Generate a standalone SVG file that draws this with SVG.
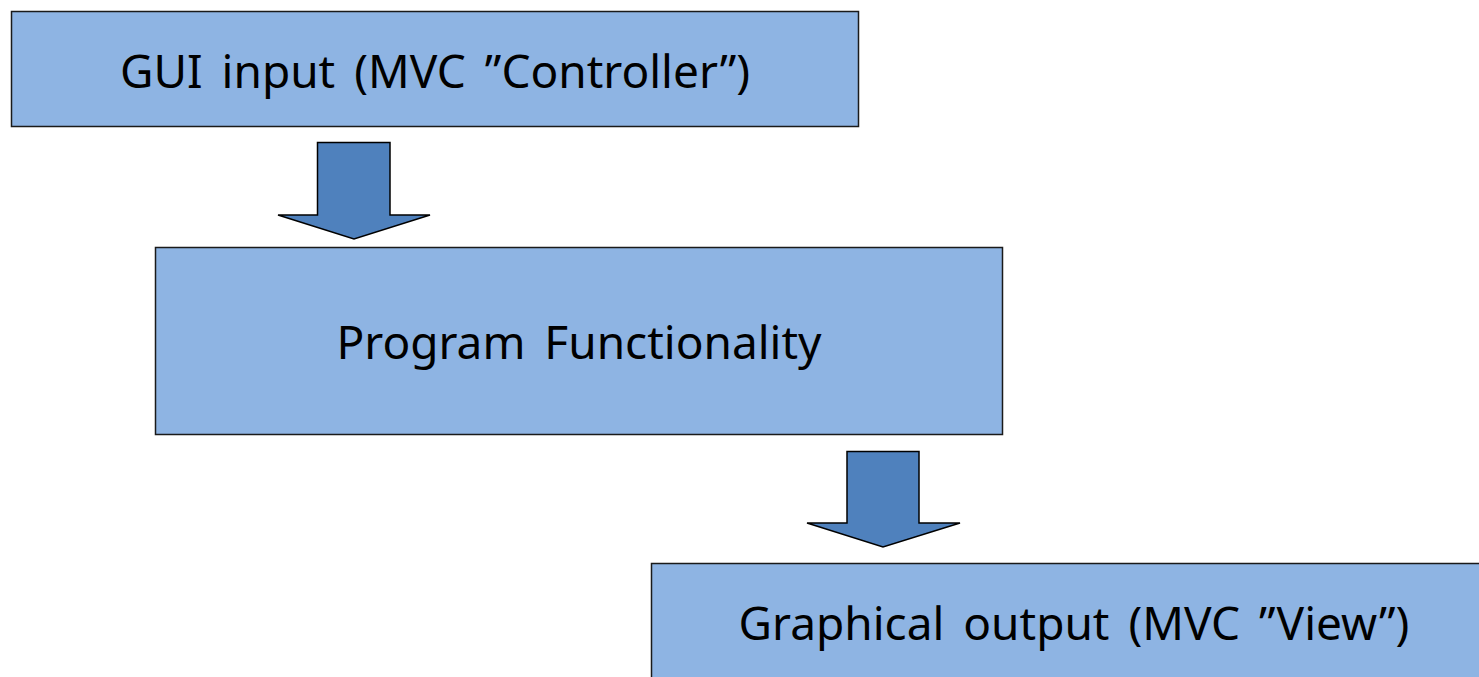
<svg xmlns="http://www.w3.org/2000/svg" width="1479" height="677" viewBox="0 0 1479 677">
<style>
.box{fill:#8EB4E3;stroke:#1a1a1a;stroke-width:1.5}
.arr{fill:#4F81BD;stroke:#000;stroke-width:1.5;stroke-linejoin:miter}
.t{font-family:"Noto Sans","Open Sans",sans-serif;font-size:46px;fill:#000;text-anchor:middle;word-spacing:7px}
</style>
<rect width="1479" height="677" fill="#fff"/>
<g id="gui-input">
<rect class="box" x="11.5" y="11.5" width="847" height="115"/>
<text class="t" x="435" y="88">GUI input (MVC ”Controller”)</text>
</g>
<g id="program-functionality">
<rect class="box" x="155.5" y="247.5" width="847" height="187"/>
<text class="t" x="579" y="359">Program Functionality</text>
</g>
<g id="graphical-output">
<rect class="box" x="651.5" y="563.5" width="846" height="130"/>
<text class="t" x="1074" y="640">Graphical output (MVC ”View”)</text>
</g>
<g id="connectors">
<path class="arr" d="M317.5,142.5 H390 V215 H430 L354,239 L278,215 H317.5 Z"/>
<path class="arr" d="M847,451.5 H919 V523 H960 L883,547 L807,523 H847 Z"/>
</g>
</svg>
